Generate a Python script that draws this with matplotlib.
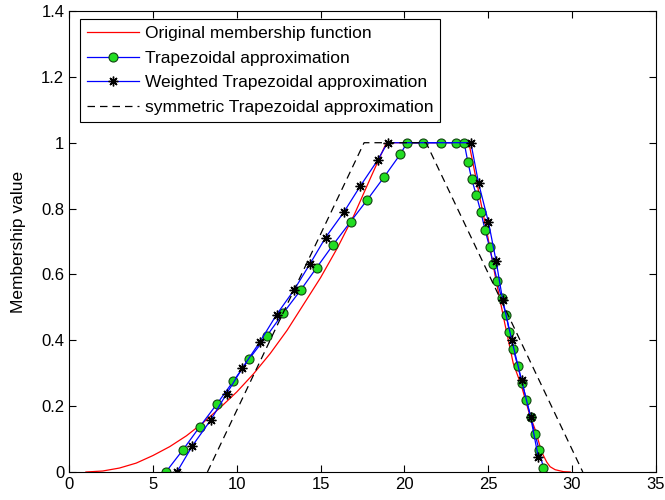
import matplotlib
matplotlib.use('Agg')
import matplotlib.pyplot as plt

plt.rcParams['font.family'] = ['Liberation Sans', 'DejaVu Sans']

# original membership function
orig_x = [1, 2, 3, 4, 5, 6, 7, 8, 9, 10, 11, 12, 13, 14, 15, 16, 17, 18, 18.93,
          23.85, 24.5, 25, 25.5, 26, 26.5, 27, 27.5, 27.8, 28, 28.2, 28.5, 28.7, 29, 29.5, 29.9]
orig_y = [0, 0.003, 0.012, 0.027, 0.05, 0.077, 0.11, 0.15, 0.195, 0.243, 0.298, 0.36, 0.43,
          0.51, 0.59, 0.68, 0.78, 0.895, 1.0,
          1.0, 0.835, 0.71, 0.575, 0.45, 0.33, 0.26, 0.17, 0.13, 0.095, 0.06, 0.03, 0.016, 0.007, 0.001, 0]

# trapezoidal approximation
trap_x = [5.77, 6.80, 7.80, 8.81, 9.80, 10.75, 11.79, 12.78, 13.81, 14.76, 15.75, 16.79, 17.78,
          18.81, 19.76, 20.16, 21.13, 22.16, 23.1, 23.57,
          23.79, 24.02, 24.29, 24.57, 24.82, 25.09, 25.31, 25.55, 25.81, 26.07, 26.27, 26.50,
          26.77, 27.03, 27.29, 27.55, 27.8, 28.05, 28.3]
trap_y = [0, 0.068, 0.138, 0.206, 0.276, 0.344, 0.413, 0.483, 0.552, 0.62, 0.69, 0.76, 0.826,
          0.897, 0.965, 1.0, 1.0, 1.0, 1.0, 1.0,
          0.942, 0.889, 0.842, 0.789, 0.735, 0.682, 0.632, 0.579, 0.527, 0.478, 0.426, 0.374,
          0.321, 0.271, 0.218, 0.166, 0.114, 0.066, 0.012]

# weighted trapezoidal approximation
wtrap_x = [6.43, 7.36, 8.45, 9.40, 10.34, 11.39, 12.38, 13.41, 14.37, 15.30, 16.39, 17.38,
           18.41, 19.0, 23.97, 24.43, 25.02, 25.48, 25.87, 26.41, 27.0, 27.54, 27.99]
wtrap_y = [0, 0.08, 0.158, 0.238, 0.316, 0.396, 0.478, 0.552, 0.632, 0.712, 0.789, 0.869,
           0.947, 1.0, 1.0, 0.877, 0.759, 0.64, 0.522, 0.401, 0.278, 0.166, 0.046]

# symmetric trapezoidal approximation
sym_x = [8.25, 17.6, 21.3, 30.65]
sym_y = [0, 1, 1, 0]

fig = plt.figure(figsize=(6.65, 5.0), dpi=100)
ax = fig.add_axes([0.104, 0.056, 0.882, 0.922])

ax.plot(orig_x, orig_y, color='red', lw=0.9, label='Original membership function')
ax.plot(trap_x, trap_y, color='blue', lw=0.9, marker='o', markersize=6.5,
        markerfacecolor='#22dd22', markeredgecolor='#114411', markeredgewidth=0.8,
        label='Trapezoidal approximation')
ax.plot(wtrap_x, wtrap_y, color='blue', lw=0.9, marker=(8, 2, 0), markersize=7,
        markerfacecolor='black', markeredgecolor='black', markeredgewidth=1.0,
        label='Weighted Trapezoidal approximation')
ax.plot(sym_x, sym_y, color='black', lw=0.9, ls=(0, (6, 4)),
        label='symmetric Trapezoidal approximation')

ax.set_xlim(0, 35)
ax.set_ylim(0, 1.4)
ax.set_xticks(range(0, 36, 5))
ax.set_yticks([0, 0.2, 0.4, 0.6, 0.8, 1, 1.2, 1.4])
ax.set_yticklabels(['0', '0.2', '0.4', '0.6', '0.8', '1', '1.2', '1.4'])
ax.tick_params(direction='in', top=True, right=True, length=5, labelsize=12)
ax.set_ylabel('Membership value', fontsize=12.5, labelpad=11)

leg = ax.legend(loc='upper left', bbox_to_anchor=(0.019, 0.983), fontsize=12.5,
                handlelength=3.0, fancybox=False, framealpha=1, borderaxespad=0,
                borderpad=0.4, labelspacing=0.55, handletextpad=0.3)
leg.get_frame().set_edgecolor('black')
leg.get_frame().set_linewidth(0.8)

fig.savefig('out.png', dpi=100)
